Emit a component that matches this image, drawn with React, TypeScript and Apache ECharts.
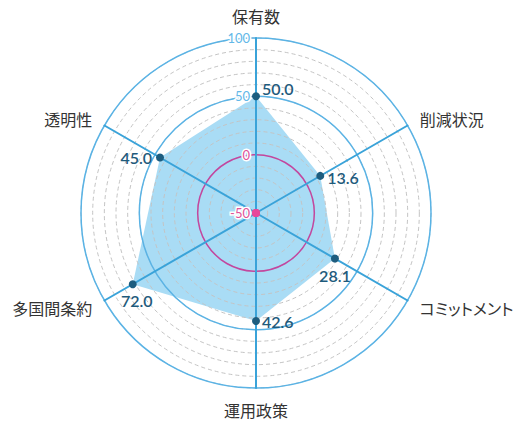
import React, { useEffect, useRef } from "react";
import * as echarts from "echarts";

// Indicators in visual clockwise order starting at the top
const indicatorNames = ["保有数", "削減状況", "コミットメント", "運用政策", "多国間条約", "透明性"];
const scoreValues = [50.0, 13.6, 28.1, 42.6, 72.0, 45.0];
const axisMin = -50;
const axisMax = 100;
const tickLabelsShown = ["-50", "0", "50", "100"];

// label placement per vertex (clockwise order)
const labelPositions = ["right", "right", "bottom", "right", "bottom", "left"];
const labelOffsets: number[][] = [[1, -8], [2, 2], [0, 4], [1, 0], [4, 3], [-3, 0]];

// ECharts radar runs counter-clockwise: reorder (top first, then reversed)
const ccwOrder = [0, 5, 4, 3, 2, 1];
const SENTINEL = -50;

export default function App() {
  const ref = useRef<HTMLDivElement>(null);
  useEffect(() => {
    document.body.style.margin = "0";
    if (!ref.current) return;
    const chart = echarts.init(ref.current, null, { renderer: "svg" });
    const names = ccwOrder.map((i) => indicatorNames[i]);
    const vals = ccwOrder.map((i) => scoreValues[i]);
    const indicatorA = names.map((n) => ({ name: n, min: axisMin, max: axisMax }));
    const indicatorB = names.map((n, k) => ({
      name: n,
      min: axisMin,
      max: axisMax,
      axisLabel: { show: k === 0 },
    }));
    const center = [256, 213];
    const radius = 175;

    const labelItems = ccwOrder.map((orig, k) => {
      const v = vals.map((_, j) => (j === k ? vals[k] : SENTINEL));
      return {
        value: v,
        label: {
          show: true,
          position: labelPositions[orig],
          offset: labelOffsets[orig],
          formatter: (p: any) => {
            const val = Array.isArray(p.value) ? p.value[k] : p.value;
            return val === SENTINEL ? "" : Number(val).toFixed(1);
          },
          color: "#1f5b7c",
          fontSize: 16,
          fontWeight: 600,
          fontFamily: "Lato, 'Noto Sans', sans-serif",
        },
      };
    });

    chart.setOption({
      animation: false,
      radar: [
        {
          center,
          radius,
          startAngle: 90,
          shape: "circle",
          splitNumber: 15,
          indicator: indicatorA,
          nameGap: 14,
          axisName: {
            color: "#333",
            fontSize: 16,
            fontFamily: "'Noto Sans CJK JP', sans-serif",
          },
          axisLine: { show: false },
          axisTick: { show: false },
          axisLabel: { show: false },
          splitArea: { show: false },
          splitLine: { lineStyle: { color: "#c4c4c4", type: [4, 3], width: 1 } },
          z: 3,
        },
        {
          center,
          radius,
          startAngle: 90,
          shape: "circle",
          splitNumber: 3,
          indicator: indicatorB,
          axisName: { show: false },
          axisLine: { show: true, lineStyle: { color: "#3aa3d9", width: 2 } },
          axisTick: { show: false },
          axisLabel: {
            show: false,
            fontSize: 13,
            fontFamily: "Lato, 'Noto Sans', sans-serif",
            margin: 6,
            formatter: (v: number) => (tickLabelsShown.indexOf(String(v)) >= 0 ? String(v) : ""),
            color: (v: any) => (Number(v) > 0 ? "#62b8e8" : "#e0529a"),
            textBorderColor: "#fff",
            textBorderWidth: 3,
          },
          splitArea: { show: false },
          splitLine: {
            lineStyle: {
              color: ["rgba(0,0,0,0)", "#c2479f", "#5ab3e5", "#5ab3e5"],
              width: 1.5,
            },
          },
          z: 4,
        },
      ],
      series: [
        {
          type: "radar",
          radarIndex: 0,
          z: 1,
          symbol: "none",
          lineStyle: { width: 0, opacity: 0 },
          areaStyle: { color: "#a9dcf5", opacity: 1 },
          data: [{ value: vals }],
        },
        {
          type: "radar",
          radarIndex: 1,
          z: 6,
          symbol: "circle",
          symbolSize: 8,
          itemStyle: { color: "#1d5d7f" },
          lineStyle: { width: 0, opacity: 0 },
          data: [{ value: vals }],
        },
        {
          type: "radar",
          radarIndex: 1,
          z: 7,
          symbol: "circle",
          symbolSize: 8,
          itemStyle: { color: "#e8489a" },
          lineStyle: { width: 0, opacity: 0 },
          data: [{ value: vals.map(() => axisMin) }],
        },
        {
          type: "radar",
          radarIndex: 1,
          z: 8,
          symbol: "circle",
          symbolSize: 0,
          itemStyle: { color: "rgba(0,0,0,0)" },
          lineStyle: { width: 0, opacity: 0 },
          data: labelItems,
        },
      ],
    });
    return () => chart.dispose();
  }, []);
  return (
    <div
      ref={ref}
      style={{ width: 530, height: 426, fontFeatureSettings: '"palt" 1' }}
    />
  );
}
